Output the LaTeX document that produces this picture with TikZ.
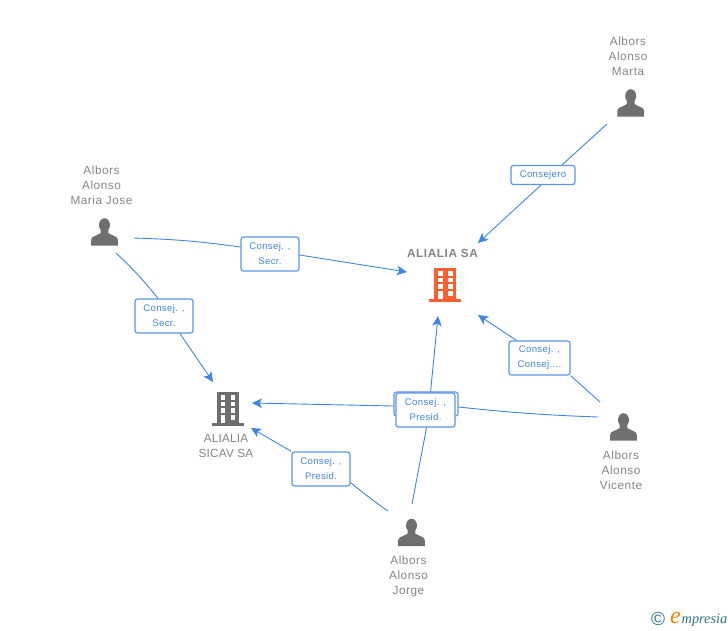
\documentclass[tikz,border=0pt]{standalone}
\usepackage{fontspec}
\setmainfont{Liberation Sans}
\newfontfamily\logofont{Liberation Serif}
\usetikzlibrary{arrows.meta}
\definecolor{linkblue}{HTML}{3F86E2}
\definecolor{boxblue}{HTML}{5C96E4}
\definecolor{iconfill}{HTML}{6F6F6F}
\definecolor{namegray}{HTML}{858585}
\definecolor{mainorange}{HTML}{FF5F2E}
\definecolor{logoteal}{HTML}{2F7285}
\tikzset{
  link/.style={draw=linkblue,line width=0.9pt},
  linkarrow/.style={link,-{Stealth[length=10pt,width=9.5pt,inset=2.5pt]}},
  rolebox/.style={draw=boxblue,line width=1.2pt,fill=white,rounded corners=2.5pt,text=linkblue,
    font=\fontsize{9.6}{15}\selectfont\addfontfeature{LetterSpace=3.5},align=center,inner sep=0pt},
  namelabel/.style={text=namegray,font=\fontsize{11.8}{15}\selectfont\addfontfeature{LetterSpace=4.5},align=center,inner sep=0pt},
  person/.pic={
    \fill[iconfill] (0,-7) ellipse (5.5 and 6.8);
    \fill[iconfill] (-13.4,13.7) -- (-13.4,8) .. controls (-13.4,3.8) and (-7,3.8) .. (-3.8,1)
      -- (-3.8,-2) -- (3.8,-2) -- (3.8,1) .. controls (7,3.8) and (13.4,3.8) .. (13.4,8) -- (13.4,13.7) -- cycle;
  },
  building/.pic={
    \fill[pic actions] (-11,-17) rectangle (11,15);
    \fill[pic actions] (-16,14) rectangle (16,17);
    \foreach \wy in {-13.5,-7,-0.2}{
      \fill[white] (-7,\wy) rectangle (-2.2,\wy+4.6);
      \fill[white] (3,\wy) rectangle (7.8,\wy+4.6);
    }
    \fill[white] (3,6.5) rectangle (7.8,11.1);
    \fill[white] (-7,6.5) rectangle (-2.2,14);
  }
}
\begin{document}
\begin{tikzpicture}[x=1pt,y=-1pt]
\useasboundingbox (0,0) rectangle (728,630);
% icons
\pic[fill=mainorange] at (445,284.5) {building};
\pic[fill=iconfill] at (227.5,408.5) {building};
\pic at (630.7,103) {person};
\pic at (104.5,232) {person};
\pic at (623.5,427) {person};
\pic at (411.5,532.5) {person};
% names
\node[namelabel] (marta) at (628,56) {Albors\\Alonso\\Marta};
\node[namelabel] (mariajose) at (101.5,185) {Albors\\Alonso\\Maria Jose};
\node[namelabel] (vicente) at (621,470) {Albors\\Alonso\\Vicente};
\node[namelabel] (jorge) at (408.5,576) {Albors\\Alonso\\Jorge};
\node[namelabel,font=\fontsize{11.8}{15}\selectfont\bfseries\addfontfeature{LetterSpace=5}] (aliasa) at (442.5,253) {ALIALIA SA};
\node[namelabel,font=\fontsize{11.8}{15}\selectfont\addfontfeature{LetterSpace=1.5}] (sicav) at (226,445.5) {ALIALIA\\SICAV SA};
% role boxes
\node[rolebox,minimum width=64pt,minimum height=19pt] (rolemarta) at (543,175) {Consejero};
\node[rolebox,minimum width=58pt,minimum height=34pt] (rolemjsa) at (270,254) {\raisebox{-1pt}{Consej. ,}\\\raisebox{-1pt}{Secr.}};
\node[rolebox,minimum width=58pt,minimum height=34pt] (rolemjsicav) at (164,316) {\raisebox{-1pt}{Consej. ,}\\\raisebox{-1pt}{Secr.}};
\node[rolebox,minimum width=61pt,minimum height=34pt] (rolevicsa) at (539.5,358) {\raisebox{-1pt}{Consej. ,}\\\raisebox{-1pt}{Consej....}};
\node[rolebox,minimum width=64pt,minimum height=24pt] (rolevicsicav) at (426,404) {};
\node[rolebox,minimum width=59pt,minimum height=34pt] (rolejorgesa) at (425.5,410) {\raisebox{-1pt}{Consej. ,}\\\raisebox{-1pt}{Presid.}};
\node[rolebox,minimum width=58pt,minimum height=34pt] (rolejorgesicav) at (321,469) {\raisebox{-1pt}{Consej. ,}\\\raisebox{-1pt}{Presid.}};
% free ends
\coordinate (martaout) at (607,124);
\coordinate (mjouta) at (134,238);
\coordinate (mjoutb) at (116,253);
\coordinate (vicouta) at (600,402);
\coordinate (vicoutb) at (598,417);
\coordinate (jorgeouta) at (412,504);
\coordinate (jorgeoutb) at (388,511);
\coordinate (saintop) at (478,243);
\coordinate (sainleft) at (407,272);
\coordinate (sainright) at (478,315);
\coordinate (sainbottom) at (438,316);
\coordinate (sicavintop) at (213,382);
\coordinate (sicavinright) at (252,403);
\coordinate (sicavinbottom) at (251,428);
% connectors
\draw[link] (martaout) -- ([xshift=19pt]rolemarta.north);
\draw[linkarrow] ([xshift=-2pt]rolemarta.south) -- (saintop);
\draw[link] (mjouta) to[bend left=3] ([yshift=7pt]rolemjsa.west);
\draw[linkarrow] ([yshift=-1pt]rolemjsa.east) -- (sainleft);
\draw[link] (mjoutb) to[bend left=4] ([xshift=-6pt]rolemjsicav.north);
\draw[linkarrow] ([xshift=16pt]rolemjsicav.south) -- (sicavintop);
\draw[link] (vicouta) -- (rolevicsa.south east);
\draw[linkarrow] ([xshift=-23pt]rolevicsa.north) -- (sainright);
\draw[link] (vicoutb) to[bend left=2] ([yshift=-3pt]rolevicsicav.east);
\draw[linkarrow] ([yshift=-2pt]rolevicsicav.west) -- (sicavinright);
\draw[link] (jorgeouta) -- ([xshift=1pt]rolejorgesa.south);
\draw[linkarrow] ([xshift=5pt]rolejorgesa.north) -- (sainbottom);
\draw[link] (jorgeoutb) to[bend left=2] ([yshift=4pt]rolejorgesicav.south east);
\draw[linkarrow] (rolejorgesicav.north west) -- (sicavinbottom);
% logo
\node[inner sep=0pt,text=logoteal,font=\fontsize{19}{19}\selectfont] (logoc) at (658,619) {©};
\node[inner sep=0pt,anchor=base west,text=logoteal,font=\logofont\fontsize{14.3}{14}\selectfont\itshape] (logotext) at (681.5,623) {mpresia};
\node[inner sep=0pt,anchor=base east,text=orange,font=\logofont\fontsize{24}{24}\selectfont\itshape] (logoe) at (681,623.5) {e};
\end{tikzpicture}
\end{document}
